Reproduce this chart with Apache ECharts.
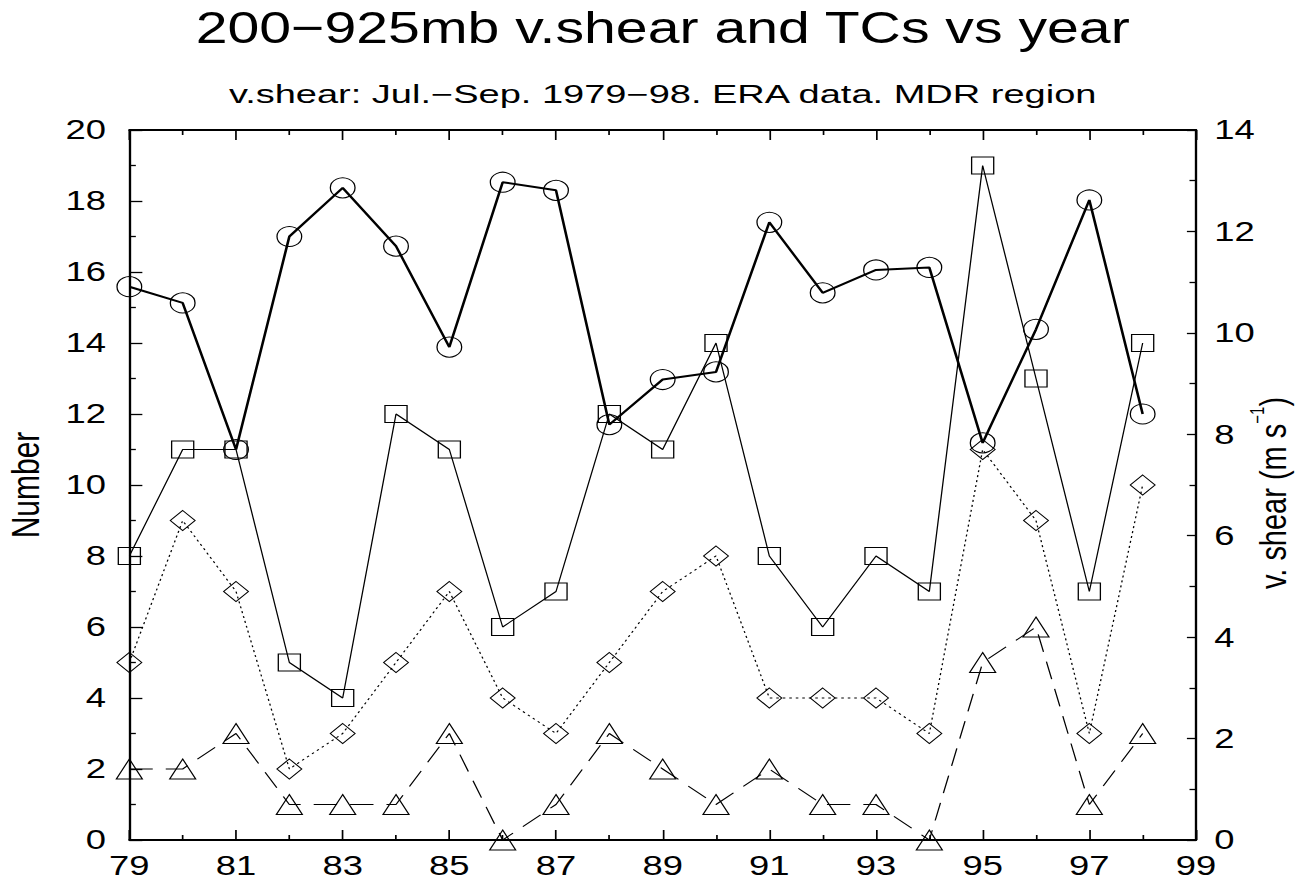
<!DOCTYPE html>
<html>
<head>
<meta charset="utf-8">
<script src="https://cdn.jsdelivr.net/npm/echarts@6/dist/echarts.min.js"></script>
<style>
  html, body { margin: 0; padding: 0; background: #fff; overflow: hidden; }
  /* The plot is laid out on a narrower canvas and widened, which gives the
     horizontally stretched look of the original figure (oval markers, wide type). */
  #chart { width: 1002px; height: 881px; transform: scaleX(1.3); transform-origin: 0 0; }
</style>
</head>
<body>
<div id="chart"></div>
<script>
// Years (19xx) on the x axis
const years = [79, 80, 81, 82, 83, 84, 85, 86, 87, 88, 89, 90, 91, 92, 93, 94, 95, 96, 97, 98];

// Tropical cyclone counts per season (left axis, "Number")
const namedStorms       = [8, 11, 11, 5, 4, 12, 11, 6, 7, 12, 11, 14, 8, 6, 8, 7, 19, 13, 7, 14];   // squares
const hurricanes        = [5, 9, 7, 2, 3, 5, 7, 4, 3, 5, 7, 8, 4, 4, 4, 3, 11, 9, 3, 10];           // diamonds
const intenseHurricanes = [2, 2, 3, 1, 1, 1, 3, 0, 1, 3, 2, 1, 2, 1, 1, 0, 5, 6, 1, 3];             // triangles

// 200-925 mb vertical wind shear, Jul-Sep mean (right axis, m/s)   // circles
const verticalShear = [10.91, 10.59, 7.70, 11.90, 12.86, 11.71, 9.72, 12.97, 12.81, 8.19,
                       9.08, 9.23, 12.18, 10.79, 11.24, 11.29, 7.83, 10.07, 12.62, 8.40];

// Axis ranges and tick spacing
const xRange = [79, 99], xStep = 2;
const countRange = [0, 20], countStep = 2;
const shearRange = [0, 14], shearStep = 2;

const titleText = '200\u2212925mb v.shear and TCs vs year';
const subtitleText = 'v.shear: Jul.\u2212Sep. 1979\u221298. ERA data. MDR region';

const FONT = '"Liberation Sans", Arial, Helvetica, sans-serif';
const BLACK = '#000';

const pairs = (vals) => years.map((y, i) => [y, vals[i]]);

const tickStyle = { color: BLACK, width: 1.3 };
function xAxisDef(pos, labels) {
  return {
    type: 'value', position: pos, min: xRange[0], max: xRange[1], interval: xStep,
    axisLine: { show: true, onZero: false, lineStyle: { color: BLACK, width: 1.8 } },
    axisTick: { show: true, inside: true, length: 10, lineStyle: tickStyle },
    minorTick: { show: true, splitNumber: 2, length: 5, lineStyle: tickStyle },
    splitLine: { show: false }, minorSplitLine: { show: false },
    axisLabel: { show: labels, color: BLACK, fontFamily: FONT, fontSize: 28, margin: 12 }
  };
}

const hollow = { color: 'rgba(0,0,0,0)', borderColor: BLACK, borderWidth: 1 };
function lineSeries(name, data, symbol, size, lineStyle, yAxisIndex) {
  return {
    name, type: 'line', data: pairs(data), xAxisIndex: 0, yAxisIndex,
    symbol, symbolSize: size, showSymbol: true, clip: false, silent: true,
    lineStyle: Object.assign({ color: BLACK }, lineStyle),
    itemStyle: hollow,
    emphasis: { disabled: true }
  };
}

const chart = echarts.init(document.getElementById('chart'), null, { renderer: 'svg' });
chart.setOption({
  animation: false,
  backgroundColor: '#fff',
  grid: { left: 99.5, right: 82, top: 130, bottom: 41, containLabel: false, outerBoundsMode: 'none' },
  graphic: [
    { type: 'text', x: 509.75, y: 28, silent: true,
      style: { text: titleText, fontFamily: FONT, fontSize: 44, fill: BLACK, align: 'center', verticalAlign: 'middle' } },
    { type: 'text', x: 509.75, y: 94, scaleX: 1.17, silent: true,
      style: { text: subtitleText, fontFamily: FONT, fontSize: 25, fill: BLACK, align: 'center', verticalAlign: 'middle' } }
  ],
  xAxis: [xAxisDef('bottom', true), xAxisDef('top', false)],
  yAxis: [
    {
      type: 'value', position: 'left', min: countRange[0], max: countRange[1], interval: countStep,
      name: 'Number', nameLocation: 'middle', nameGap: 65, nameMoveOverlap: false,
      nameTextStyle: { color: BLACK, fontFamily: FONT, fontSize: 30 },
      axisLine: { show: true, lineStyle: { color: BLACK, width: 1.8 } },
      axisTick: { show: true, inside: true, length: 10, lineStyle: tickStyle },
      minorTick: { show: true, splitNumber: 2, length: 5, lineStyle: tickStyle },
      splitLine: { show: false }, minorSplitLine: { show: false },
      axisLabel: { color: BLACK, fontFamily: FONT, fontSize: 28, margin: 18 }
    },
    {
      type: 'value', position: 'right', min: shearRange[0], max: shearRange[1], interval: shearStep,
      name: '{a|v. shear (m s}{sup|\u22121}{a|)}', nameLocation: 'middle', nameGap: 40, nameRotate: 90,
      nameMoveOverlap: false,
      nameTextStyle: {
        color: BLACK, fontFamily: FONT, padding: [0, 16, 0, 0],
        rich: {
          a: { fontFamily: FONT, fontSize: 29, color: BLACK, lineHeight: 34, verticalAlign: 'bottom' },
          sup: { fontFamily: FONT, fontSize: 15, color: BLACK, lineHeight: 18, verticalAlign: 'top' }
        }
      },
      axisLine: { show: true, lineStyle: { color: BLACK, width: 1.8 } },
      axisTick: { show: true, inside: true, length: 7, lineStyle: tickStyle },
      minorTick: { show: true, splitNumber: 2, length: 5, lineStyle: tickStyle },
      splitLine: { show: false }, minorSplitLine: { show: false },
      axisLabel: { color: BLACK, fontFamily: FONT, fontSize: 28, margin: 14 }
    }
  ],
  series: [
    lineSeries('named storms', namedStorms, 'rect', 17, { width: 1 }, 0),
    lineSeries('hurricanes', hurricanes, 'diamond', [19, 20], { width: 1, type: [2, 3] }, 0),
    lineSeries('intense hurricanes', intenseHurricanes, 'triangle', [20, 20], { width: 1, type: [18, 10] }, 0),
    lineSeries('vertical shear', verticalShear, 'circle', [19, 20], { width: 2 }, 1)
  ]
});
</script>
</body>
</html>
